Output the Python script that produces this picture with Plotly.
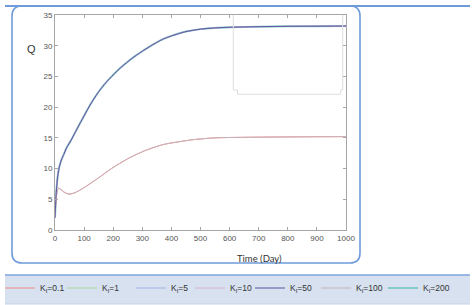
import plotly.graph_objects as go

# ---- data ----
t_high = [0, 3, 6, 10, 15, 22, 30, 40, 55, 75, 100, 125, 150, 175, 200, 225, 250, 275, 300, 325, 350, 375, 400, 450, 500, 550, 600, 700, 800, 900, 1000]
q_high = [2.0, 5.0, 7.2, 9.0, 10.3, 11.4, 12.3, 13.4, 14.6, 16.4, 18.6, 20.7, 22.5, 24.0, 25.25, 26.4, 27.4, 28.3, 29.1, 29.85, 30.55, 31.15, 31.6, 32.3, 32.7, 32.9, 33.0, 33.1, 33.15, 33.18, 33.2]

t_low = [0, 3, 6, 10, 13, 20, 30, 40, 51, 70, 100, 150, 194, 250, 308, 371, 474, 550, 669, 800, 900, 1000]
q_low = [2.0, 4.5, 6.0, 6.7, 6.8, 6.6, 6.2, 5.95, 5.85, 6.1, 6.9, 8.5, 10.0, 11.6, 12.9, 13.9, 14.7, 15.0, 15.1, 15.15, 15.18, 15.2]

legend_names = ["K<sub>I</sub>=0.1", "K<sub>I</sub>=1", "K<sub>I</sub>=5", "K<sub>I</sub>=10",
                "K<sub>I</sub>=50", "K<sub>I</sub>=100", "K<sub>I</sub>=200"]
series_curve = ["low", "high", "high", "high", "high", "low", "high"]
series_colors = ["#ee8a8a", "#a9d8a0", "#9fb5e2", "#d9aed2", "#56599f", "#c9b3ba", "#86c9c9"]
series_widths = [1, 1, 1, 1, 1, 1, 2]
draw_order = [1, 6, 2, 0, 5, 3, 4]

W, H = 475, 305
ML, MR, MT, MB = 55, 129, 15, 75
PW, PH = W - ML - MR, H - MT - MB

# pixel x where each legend entry's text begins in the reference
legend_text_x = [39, 102, 171, 230, 290, 356, 423]
legend_keys = ["legend"] + [f"legend{k}" for k in range(2, 8)]


def X(p):
    return (p - ML) / PW


def Y(p):
    return (H - MB - p) / PH


fig = go.Figure()
for i in draw_order:
    tx, qy = (t_low, q_low) if series_curve[i] == "low" else (t_high, q_high)
    fig.add_trace(go.Scatter(
        x=tx, y=qy, mode="lines", name=legend_names[i],
        line=dict(color=series_colors[i], width=series_widths[i], shape="spline", smoothing=0.6),
        legend=legend_keys[i],
    ))

axis_common = dict(
    showline=True, linecolor="#a6a6a6", linewidth=1, mirror="ticks",
    ticks="inside", ticklen=3, tickcolor="#a6a6a6",
    showgrid=False, zeroline=False,
    tickfont=dict(family="Liberation Sans, Arial", size=8, color="#555555"),
)
fig.update_xaxes(range=[0, 1000], dtick=100, **axis_common)
fig.update_yaxes(range=[0, 35], dtick=5, **axis_common)

# rounded frame
l, r, t, b, rad = 12, 360, 6, 263, 10
frame_path = (f"M {X(l)},{Y(t+rad)} Q {X(l)},{Y(t)} {X(l+rad)},{Y(t)} "
              f"L {X(r-rad)},{Y(t)} Q {X(r)},{Y(t)} {X(r)},{Y(t+rad)} "
              f"L {X(r)},{Y(b-rad)} Q {X(r)},{Y(b)} {X(r-rad)},{Y(b)} "
              f"L {X(l+rad)},{Y(b)} Q {X(l)},{Y(b)} {X(l)},{Y(b-rad)} Z")
inset_path = (f"M {X(233.3)},{Y(15)} L {X(233.3)},{Y(90)} L {X(237.5)},{Y(90)} L {X(237.5)},{Y(94.3)} "
              f"L {X(340.7)},{Y(94.3)} L {X(340.7)},{Y(90)} L {X(342.7)},{Y(90)} L {X(342.7)},{Y(15)}")

shapes = [
    dict(type="rect", xref="paper", yref="paper", x0=X(5), x1=X(470), y0=Y(304), y1=Y(275),
         fillcolor="#d7e1f0", line=dict(width=0), layer="below"),
    dict(type="line", xref="paper", yref="paper", x0=X(5), x1=X(470), y0=Y(275), y1=Y(275),
         line=dict(color="#7ea6dc", width=1.5)),
    dict(type="line", xref="paper", yref="paper", x0=X(5), x1=X(470), y0=Y(304), y1=Y(304),
         line=dict(color="#c8d3e6", width=1)),
    dict(type="path", xref="paper", yref="paper", path=frame_path,
         line=dict(color="#6f9cd9", width=1.6)),
    dict(type="line", xref="paper", yref="paper", x0=X(5), x1=X(470), y0=Y(6), y1=Y(6),
         line=dict(color="#6f9cd9", width=2)),
    dict(type="path", xref="paper", yref="paper", path=inset_path,
         line=dict(color="#dedede", width=1)),
]

annotations = [
    dict(text="Q", xref="paper", yref="paper", x=X(25), y=Y(41), showarrow=False,
         font=dict(family="Liberation Sans, Arial", size=11, color="#333333")),
    dict(text="Time (Day)", xref="paper", yref="paper", x=X(259.5), y=Y(258),
         xanchor="center", yanchor="middle", showarrow=False,
         font=dict(family="Lato, Liberation Sans", size=9.5, color="#333333")),
]

legend_common = dict(orientation="h", xref="container", yref="container",
                     xanchor="left", yanchor="middle",
                     bgcolor="rgba(0,0,0,0)", borderwidth=0,
                     font=dict(family="Liberation Sans, Arial", size=8.5, color="#333333"),
                     itemwidth=30, tracegroupgap=0)

legends = {}
for k, key in enumerate(legend_keys):
    legends[key] = dict(x=(legend_text_x[k] - 40) / W, y=(H - 288) / H, **legend_common)

fig.update_layout(
    width=W, height=H,
    margin=dict(l=ML, r=MR, t=MT, b=MB, pad=0, autoexpand=False),
    paper_bgcolor="white", plot_bgcolor="white",
    shapes=shapes, annotations=annotations,
    showlegend=True,
    **legends,
)

fig.write_html("out.html", config={"displayModeBar": False},
               post_script="document.body.style.margin='0';document.body.style.overflow='hidden';")
